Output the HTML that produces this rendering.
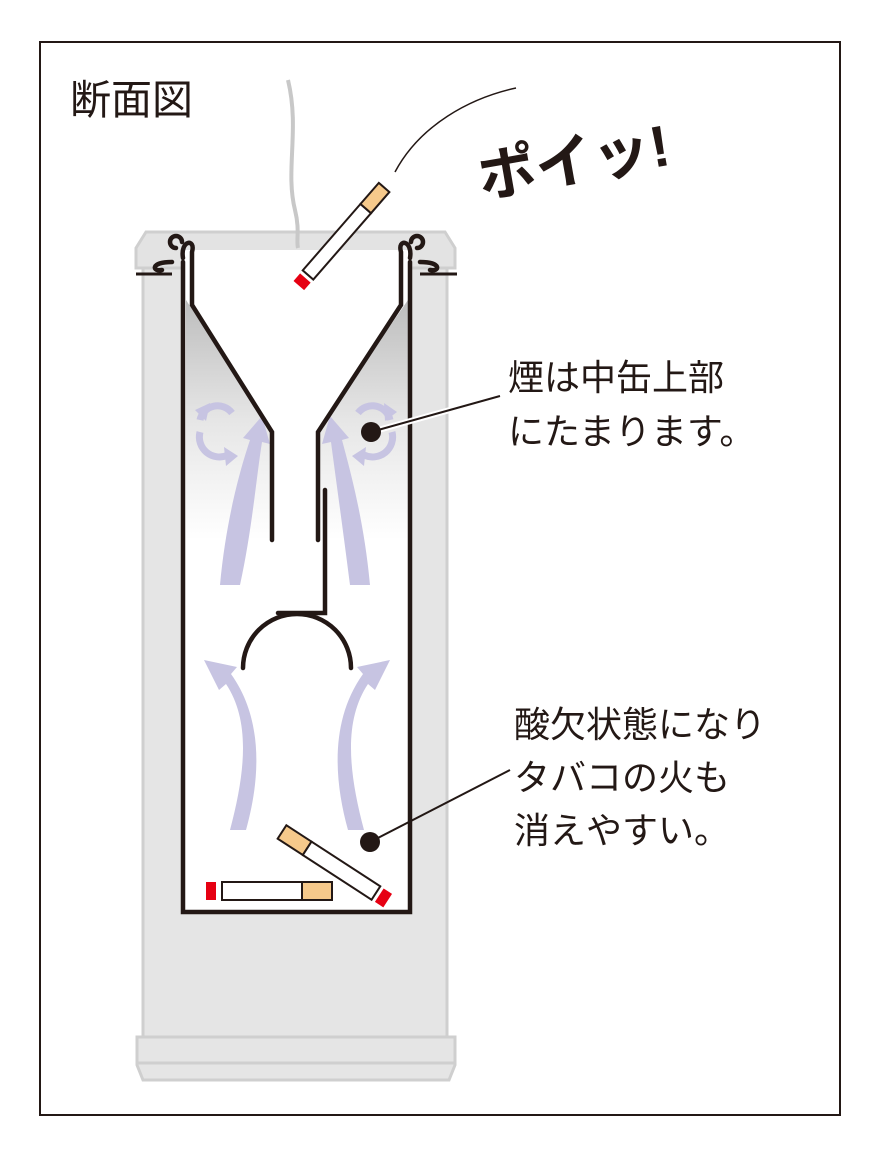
<!DOCTYPE html>
<html><head><meta charset="utf-8"><style>
html,body{margin:0;padding:0;background:#fff;}
svg{display:block;}
text{font-family:"Liberation Sans","Noto Sans CJK JP",sans-serif;fill:#231815;}
</style></head><body>
<svg width="895" height="1160" viewBox="0 0 895 1160" xmlns="http://www.w3.org/2000/svg">
<defs>
<linearGradient id="g" x1="0" y1="0" x2="0" y2="1">
<stop offset="0" stop-color="#bdbdbd"/><stop offset="0.5" stop-color="#e6e6e6"/><stop offset="1" stop-color="#ffffff"/>
</linearGradient>
</defs>
<rect x="40" y="42" width="800" height="1073" fill="#fff" stroke="#231815" stroke-width="2"/>
<rect x="143" y="250" width="304" height="790" fill="#e5e5e5" stroke="#cfcfcf" stroke-width="3"/>
<path d="M136 248 L146 232 L445 232 L455 248 L455 268 L136 268 Z" fill="#e3e3e3" stroke="#cfcfcf" stroke-width="3"/>
<path d="M137 1037 L455 1037 L455 1065 L449 1080 L143 1080 L137 1065 Z" fill="#e5e5e5" stroke="#cfcfcf" stroke-width="3"/>
<line x1="137" y1="1063" x2="455" y2="1063" stroke="#cfcfcf" stroke-width="3"/>
<rect x="183" y="250" width="227" height="662" fill="#fff"/>
<path d="M186 300 L272 430 L272 540 L186 540 Z" fill="url(#g)"/>
<path d="M408 300 L318 430 L318 540 L408 540 Z" fill="url(#g)"/>
<g fill="#c7c4e2">
<path d="M220 585 C226 520 240 470 250 440 L243 438 L262 416 L270 444 L262 442 C256 480 252 530 240 585 Z"/>
<path d="M370 585 C364 520 350 470 342 440 L349 438 L330 416 L322 444 L331 442 C336 480 343 530 350 585 Z"/>
<path d="M230 830 C246 770 250 720 226 684 L219 690 L204 660 L237 667 L231 674 C264 720 260 780 246 830 Z"/>
<path d="M364 830 C348 770 344 720 368 684 L375 690 L390 660 L357 667 L363 674 C330 720 334 780 348 830 Z"/>
</g>
<g fill="none" stroke="#c7c4e2" stroke-width="7">
<path d="M200 420 A18 18 0 0 1 232 413"/>
<path d="M200 432 A20 20 0 0 0 228 455"/>
<path d="M390 420 A18 18 0 0 0 358 413"/>
<path d="M392 432 A20 20 0 0 1 364 455"/>
</g>
<g fill="#c7c4e2">
<path d="M195 410 L210 403 L206 421 Z"/><path d="M238 456 L224 447 L226 466 Z"/>
<path d="M397 412 L384 403 L385 421 Z"/><path d="M352 456 L366 447 L364 466 Z"/>
</g>
<g fill="none" stroke="#231815" stroke-width="4.5" stroke-linecap="round">
<path d="M183 262 L183 912 L410 912 L410 262"/>
<path d="M183 258 C180 240 196 238 192 252 L192 305 L272 432 L272 540"/>
<path d="M410 258 C413 240 397 238 401 252 L401 305 L318 432 L318 540"/>
<path d="M325 490 L325 613 L278 613"/>
<path d="M243 668 A54 54 0 0 1 351 668"/>
<path d="M176 248 a6 6 0 1 1 6 -6"/>
<path d="M417 248 a6 6 0 1 0 -6 -6"/>
<path d="M172 262 C150 262 152 272 162 270"/>
<path d="M420 262 C442 262 440 272 430 270"/>
</g>
<line x1="136" y1="274" x2="172" y2="274" stroke="#231815" stroke-width="3"/>
<line x1="420" y1="274" x2="457" y2="274" stroke="#231815" stroke-width="3"/>
<path d="M288 80 C300 130 285 170 295 210 C300 230 296 240 298 248" fill="none" stroke="#c8c8c8" stroke-width="4"/>
<path d="M395 172 C420 125 470 98 516 88" fill="none" stroke="#231815" stroke-width="1.5"/>
<g transform="translate(308,275) rotate(-49)">
<rect x="0" y="-7" width="88" height="14" fill="#fff" stroke="#231815" stroke-width="2"/>
<rect x="88" y="-7" width="28" height="14" fill="#f6c98b" stroke="#231815" stroke-width="2"/>
<rect x="-14" y="-7" width="10" height="14" fill="#e60012"/>
</g>
<rect x="206" y="882" width="10" height="18" fill="#e60012"/>
<rect x="222" y="882" width="80" height="18" fill="#fff" stroke="#231815" stroke-width="2"/>
<rect x="302" y="882" width="30" height="18" fill="#f6c98b" stroke="#231815" stroke-width="2"/>
<g transform="translate(282,832) rotate(33)">
<rect x="0" y="-8" width="30" height="16" fill="#f6c98b" stroke="#231815" stroke-width="2"/>
<rect x="30" y="-8" width="82" height="16" fill="#fff" stroke="#231815" stroke-width="2"/>
<rect x="116" y="-8" width="10" height="16" fill="#e60012"/>
</g>
<line x1="371" y1="432" x2="500" y2="396" stroke="#fff" stroke-width="6"/>
<line x1="371" y1="432" x2="500" y2="396" stroke="#231815" stroke-width="2"/>
<circle cx="371" cy="432" r="10" fill="#231815"/>
<line x1="370" y1="842" x2="510" y2="770" stroke="#231815" stroke-width="2"/>
<circle cx="370" cy="842" r="10" fill="#231815"/>
<text x="70" y="114" font-size="41">断面図</text>
<text x="482" y="198" font-size="58" font-weight="bold" transform="rotate(-10 482 198)">ポイッ!</text>
<text x="508" y="390" font-size="36">煙は中缶上部</text>
<text x="508" y="444" font-size="36">にたまります。</text>
<text x="514" y="737" font-size="36">酸欠状態になり</text>
<text x="514" y="790" font-size="36">タバコの火も</text>
<text x="514" y="843" font-size="36">消えやすい。</text>
</svg>
</body></html>
